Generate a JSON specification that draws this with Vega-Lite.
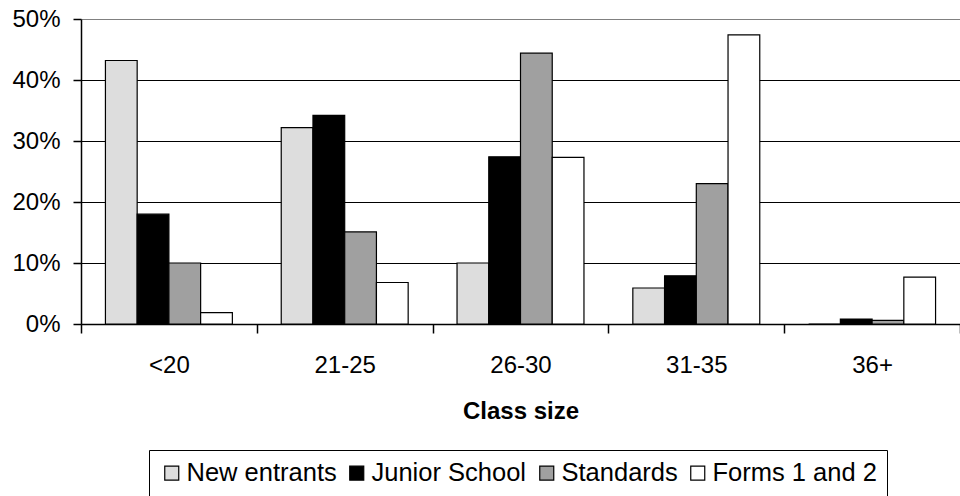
{
  "$schema": "https://vega.github.io/schema/vega-lite/v6.json",
  "width": 879,
  "height": 305,
  "autosize": {"type": "none"},
  "padding": {"left": 81, "top": 19, "right": 0, "bottom": 172},
  "background": "white",
  "config": {
    "view": {"stroke": null},
    "font": "Liberation Sans",
    "axis": {"labelFont": "Liberation Sans", "titleFont": "Liberation Sans", "labelColor": "black", "titleColor": "black", "domainColor": "black", "tickColor": "black"}
  },
  "data": {
    "values": [
      {"size": "<20", "series": "New entrants", "value": 0.432},
      {"size": "<20", "series": "Junior School", "value": 0.18},
      {"size": "<20", "series": "Standards", "value": 0.10},
      {"size": "<20", "series": "Forms 1 and 2", "value": 0.0185},
      {"size": "21-25", "series": "New entrants", "value": 0.322},
      {"size": "21-25", "series": "Junior School", "value": 0.342},
      {"size": "21-25", "series": "Standards", "value": 0.151},
      {"size": "21-25", "series": "Forms 1 and 2", "value": 0.068},
      {"size": "26-30", "series": "New entrants", "value": 0.10},
      {"size": "26-30", "series": "Junior School", "value": 0.274},
      {"size": "26-30", "series": "Standards", "value": 0.444},
      {"size": "26-30", "series": "Forms 1 and 2", "value": 0.273},
      {"size": "31-35", "series": "New entrants", "value": 0.059},
      {"size": "31-35", "series": "Junior School", "value": 0.079},
      {"size": "31-35", "series": "Standards", "value": 0.23},
      {"size": "31-35", "series": "Forms 1 and 2", "value": 0.474},
      {"size": "36+", "series": "New entrants", "value": 0},
      {"size": "36+", "series": "Junior School", "value": 0.008},
      {"size": "36+", "series": "Standards", "value": 0.006},
      {"size": "36+", "series": "Forms 1 and 2", "value": 0.077}
    ]
  },
  "mark": {"type": "bar", "stroke": "black", "strokeWidth": 1.2},
  "encoding": {
    "x": {
      "field": "size",
      "type": "nominal",
      "sort": ["<20", "21-25", "26-30", "31-35", "36+"],
      "scale": {"paddingInner": 0, "paddingOuter": 0},
      "axis": {
        "title": "Class size",
        "titleFontSize": 24,
        "titleFontWeight": "bold",
        "titlePadding": 22,
        "labelFontSize": 24,
        "labelAngle": 0,
        "labelPadding": 20,
        "tickBand": "extent",
        "tickSize": 9,
        "tickWidth": 1.5,
        "domainWidth": 1.5,
        "grid": false
      }
    },
    "xOffset": {
      "field": "series",
      "type": "nominal",
      "sort": ["New entrants", "Junior School", "Standards", "Forms 1 and 2"],
      "scale": {"paddingInner": 0, "paddingOuter": 0.77}
    },
    "y": {
      "field": "value",
      "type": "quantitative",
      "scale": {"domain": [0, 0.5], "nice": false},
      "axis": {
        "title": null,
        "format": "%",
        "values": [0, 0.1, 0.2, 0.3, 0.4, 0.5],
        "labelFontSize": 24,
        "labelPadding": 13,
        "tickSize": 8,
        "tickWidth": 1.5,
        "domainWidth": 1.5,
        "grid": true,
        "gridColor": {"condition": {"test": "datum.value === 0.5", "value": "#808080"}, "value": "black"},
        "gridWidth": 1.2
      }
    },
    "fill": {
      "field": "series",
      "type": "nominal",
      "sort": ["New entrants", "Junior School", "Standards", "Forms 1 and 2"],
      "scale": {"domain": ["New entrants", "Junior School", "Standards", "Forms 1 and 2"], "range": ["#dddddd", "#000000", "#a0a0a0", "#ffffff"]},
      "legend": {
        "title": null,
        "orient": "none",
        "legendX": 68,
        "legendY": 431,
        "direction": "horizontal",
        "symbolType": "square",
        "symbolSize": 196,
        "symbolStrokeColor": "black",
        "symbolStrokeWidth": 1.2,
        "labelFont": "Liberation Sans",
        "labelFontSize": 25.5,
        "labelColor": "black",
        "labelLimit": 0,
        "labelOffset": 2,
        "columnPadding": 7,
        "strokeColor": "black",
        "padding": 10
      }
    }
  }
}
